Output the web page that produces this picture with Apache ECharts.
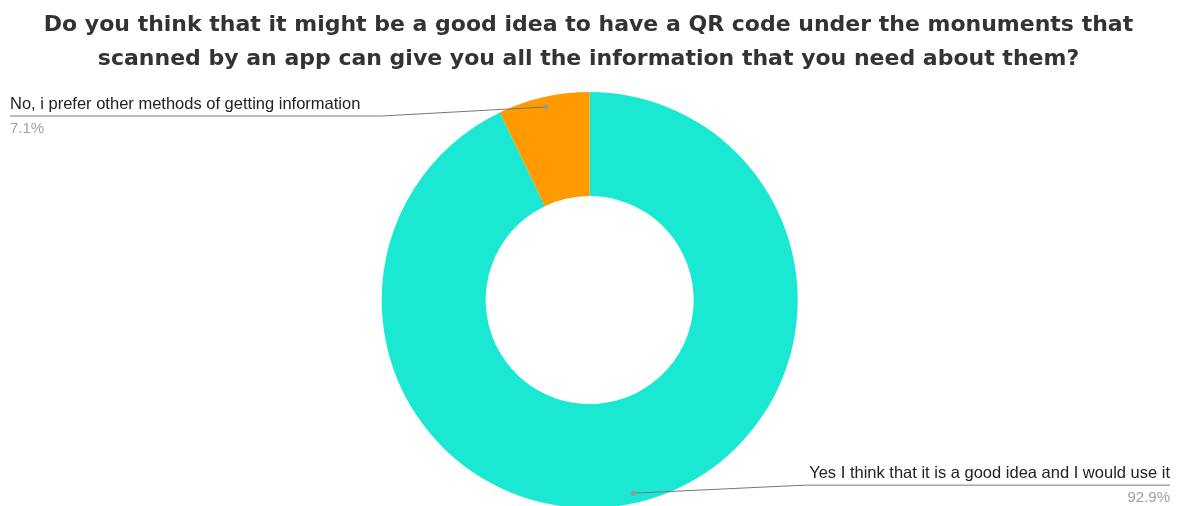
<!DOCTYPE html>
<html>
<head>
<meta charset="utf-8">
<script src="https://cdn.jsdelivr.net/npm/echarts@6/dist/echarts.min.js"></script>
<style>
  html, body { margin: 0; padding: 0; background: #fff; }
  #chart { width: 1177px; height: 506px; }
</style>
</head>
<body>
<div id="chart"></div>
<script>
// Survey answers and their shares (percent)
const titleText = 'Do you think that it might be a good idea to have a QR code under the monuments that\nscanned by an app can give you all the information that you need about them?';
const answers = ['Yes I think that it is a good idea and I would use it', 'No, i prefer other methods of getting information'];
const shares = [92.9, 7.1];
const sliceColors = ['#1ae8d3', '#ff9a00'];

const chart = echarts.init(document.getElementById('chart'), null, { renderer: 'canvas' });
const W = 1177;
const CENTER = ['50.1%', '59.3%'];
const RADIUS = [104, 208];

// leader start points, filled in while labels are laid out
const anchors = [];

const ringData = answers.map((name, i) => ({ name, value: shares[i], itemStyle: { color: sliceColors[i] } }));
const labelData = answers.map((name, i) => ({ name, value: shares[i] }));

function layoutLabel(params) {
  const pts = params.labelLinePoints;
  const p0 = pts[0], p1 = pts[1];
  const dx = p1[0] - p0[0], dy = p1[1] - p0[1];
  const len = Math.sqrt(dx * dx + dy * dy) || 1;
  // leader begins a little inside the slice edge
  const start = [p0[0] - dx / len * 10, p0[1] - dy / len * 10];
  anchors[params.dataIndex] = start;
  const w = params.labelRect.width;
  if (p0[0] < W / 2) {
    const uy = start[1] + 9;
    const x = 10;
    return {
      x: x, y: uy - 24, align: 'left', verticalAlign: 'top',
      labelLinePoints: [start, [x + w + 22, uy], [x, uy]]
    };
  }
  const uy = start[1] - 8;
  const x = W - 7;
  return {
    x: x, y: uy - 24, align: 'right', verticalAlign: 'top',
    labelLinePoints: [start, [x - w - 4, uy], [x, uy]]
  };
}

const option = {
  animation: false,
  title: {
    text: titleText,
    left: 'center',
    top: 3,
    textStyle: {
      fontFamily: 'DejaVu Sans',
      fontWeight: 'bold',
      fontSize: 22,
      lineHeight: 34,
      color: '#333'
    }
  },
  series: [{
    // the ring itself
    type: 'pie',
    center: CENTER,
    radius: RADIUS,
    startAngle: 90,
    clockwise: true,
    silent: true,
    z: 2,
    data: ringData,
    label: { show: false },
    labelLine: { show: false }
  }, {
    // transparent copy that carries the labels and leaders above the ring
    type: 'pie',
    center: CENTER,
    radius: RADIUS,
    startAngle: 90,
    clockwise: true,
    percentPrecision: 1,
    silent: true,
    z: 3,
    data: labelData,
    itemStyle: { color: 'rgba(0,0,0,0)' },
    label: {
      show: true,
      position: 'outside',
      formatter: '{n|{b}}\n{v|{d}%}',
      rich: {
        n: { fontFamily: 'Liberation Sans', fontSize: 16.5, color: '#222', lineHeight: 25 },
        v: { fontFamily: 'Liberation Sans', fontSize: 15, color: '#a0a0a0', lineHeight: 23 }
      }
    },
    labelLine: {
      show: true,
      length: 10,
      length2: 10,
      lineStyle: { color: '#777', width: 1 }
    },
    labelLayout: layoutLabel
  }]
};

chart.setOption(option);

// small dots where each leader starts
chart.setOption({
  graphic: anchors.map(p => ({
    type: 'circle',
    shape: { cx: p[0], cy: p[1], r: 2.5 },
    style: { fill: '#999' },
    z: 10,
    silent: true
  }))
});
</script>
</body>
</html>
